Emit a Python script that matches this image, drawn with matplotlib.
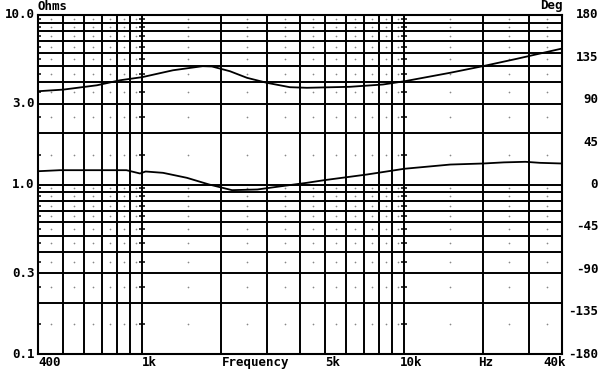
import numpy as np
import matplotlib.pyplot as plt

# impedance magnitude (ohms)
f_z = [400, 500, 672, 822, 1000, 1310, 1700, 1845, 2160, 2510, 2990, 3660, 4250,
       6200, 8290, 10060, 14950, 19950, 26950, 40000]
z = [3.55, 3.63, 3.85, 4.12, 4.30, 4.72, 4.99, 4.97, 4.66, 4.26, 3.98, 3.75, 3.72,
     3.77, 3.89, 4.07, 4.56, 4.99, 5.52, 6.34]

# phase (degrees)
f_p = [400, 485, 870, 980, 1030, 1200, 1480, 1800, 2200, 2750, 3400, 4250, 4950,
       7200, 10000, 15000, 20000, 24000, 29000, 33000, 40000]
ph = [14.1, 15.2, 15.2, 11.7, 13.8, 12.4, 7.1, 0.0, -6.0, -5.3, -1.8, 1.8, 4.6,
      10.6, 16.7, 21.2, 22.3, 23.5, 24.1, 23.0, 22.3]

x_lines = [500, 600, 700, 800, 900, 1000, 2000, 3000, 4000, 5000, 6000, 7000, 8000,
           9000, 10000, 20000, 30000]
y_lines = [0.2, 0.3, 0.4, 0.5, 0.6, 0.7, 0.8, 0.9, 1, 2, 3, 4, 5, 6, 7, 8, 9]
x_dots = [450, 550, 650, 750, 850, 950, 1500, 2500, 3500, 4500, 5500, 6500, 7500,
          8500, 9500, 15000, 25000, 35000]
y_dots = [0.15, 0.25, 0.35, 0.45, 0.55, 0.65, 0.75, 0.85, 0.95,
          1.5, 2.5, 3.5, 4.5, 5.5, 6.5, 7.5, 8.5, 9.5]

left_labels = ['10.0', '3.0', '1.0', '0.3', '0.1']
left_vals = [10, 3, 1, 0.3, 0.1]
deg_vals = [180, 135, 90, 45, 0, -45, -90, -135, -180]

mono = {'family': 'DejaVu Sans Mono', 'weight': 'bold', 'size': 9}

fig = plt.figure(figsize=(6, 3.85), dpi=100)
ax = fig.add_axes([38/600, 1-354/385, 524/600, 339/385])
ax.set_xscale('log')
ax.set_yscale('log')
ax.set_xlim(400, 40000)
ax.set_ylim(0.1, 10)

for xv in x_lines:
    ax.axvline(xv, color='black', lw=1.4, zorder=1)
for yv in y_lines:
    ax.axhline(yv, color='black', lw=1.4, zorder=1)

# faint dot grid
xx, yy = np.meshgrid(x_dots, y_dots)
ax.scatter(xx.ravel(), yy.ravel(), s=1.5, color='#888888', lw=0, zorder=2)
for xv in [400, 1000, 10000]:
    ax.scatter([xv]*len(y_dots), y_dots, marker='_', s=14, color='black', lw=1.1, zorder=2)

ax.plot(f_z, z, color='black', lw=1.3, zorder=3)

ax.set_xticks([])
ax.set_yticks([])
ax.minorticks_off()
for s in ax.spines.values():
    s.set_linewidth(1.5)

ax2 = ax.twinx()
ax2.set_ylim(-180, 180)
ax2.set_yticks([])
ax2.plot(f_p, ph, color='black', lw=1.3, zorder=3)
for s in ax2.spines.values():
    s.set_visible(False)

# labels
for lab, v in zip(left_labels, left_vals):
    ax.text(-0.006, v, lab, transform=ax.get_yaxis_transform(), ha='right', va='center', **mono)
for d in deg_vals:
    ax2.text(1.069, d, str(d), transform=ax2.get_yaxis_transform(), ha='right', va='center', **mono)

tr = ax.get_xaxis_transform()
ax.text(400, -0.025, '400', transform=tr, ha='left', va='center', **mono)
ax.text(1000, -0.025, '1k', transform=tr, ha='left', va='center', **mono)
ax.text(2700, -0.025, 'Frequency', transform=tr, ha='center', va='center', **mono)
ax.text(5000, -0.025, '5k', transform=tr, ha='left', va='center', **mono)
ax.text(9600, -0.025, '10k', transform=tr, ha='left', va='center', **mono)
ax.text(20500, -0.025, 'Hz', transform=tr, ha='center', va='center', **mono)
ax.text(41500, -0.025, '40k', transform=tr, ha='right', va='center', **mono)

fig.text(38/600, 1-6/385, 'Ohms', ha='left', va='center', **mono)
fig.text(563/600, 1-6/385, 'Deg', ha='right', va='center', **mono)

fig.savefig('out.png', dpi=100, facecolor='white')
